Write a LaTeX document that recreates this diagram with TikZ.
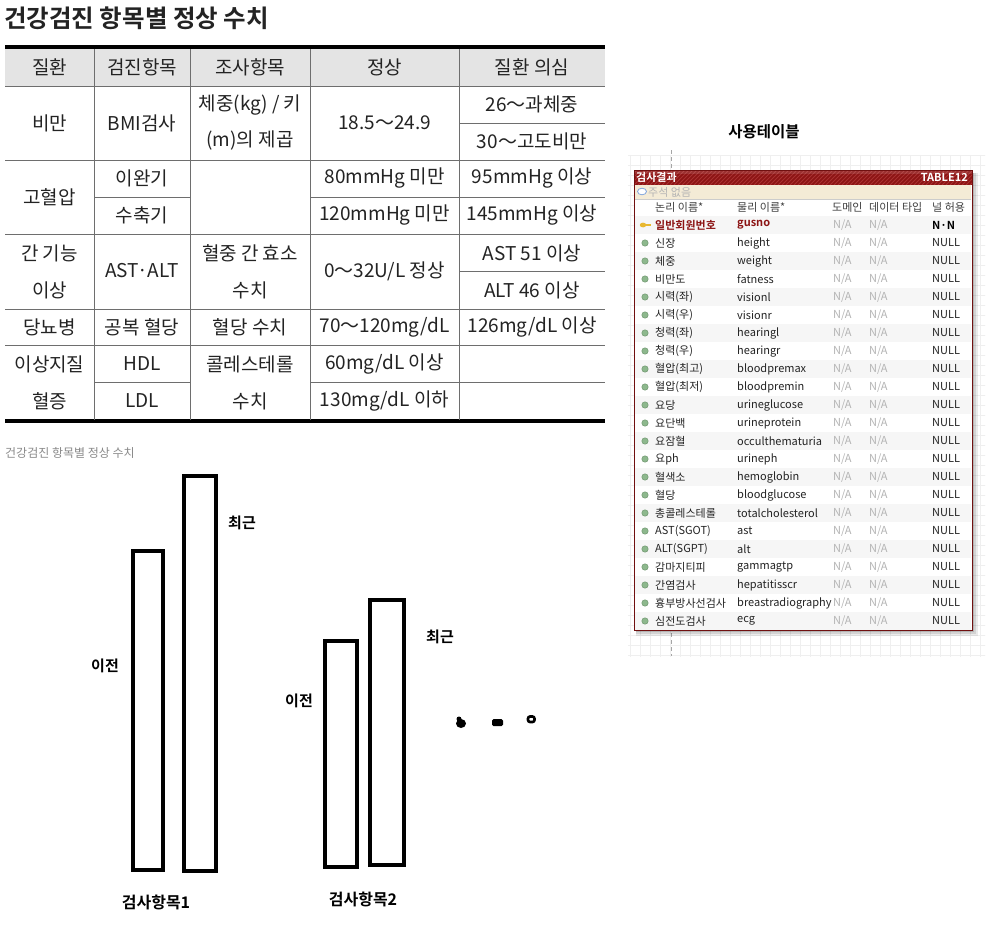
\documentclass[tikz,border=0pt]{standalone}
\usepackage{fontspec}
\setmainfont{Noto Sans CJK KR}[BoldFont={Noto Sans CJK KR Bold}]
\definecolor{hdrgray}{HTML}{E4E4E4}
\definecolor{tline}{HTML}{6E6E6E}
\definecolor{ttext}{HTML}{232323}
\definecolor{capgray}{HTML}{8A8A8A}
\definecolor{gridc}{HTML}{EFEFEF}
\definecolor{dred}{HTML}{8C1414}
\definecolor{dredlt}{HTML}{A83030}
\definecolor{beige}{HTML}{F4EBD6}
\definecolor{nagray}{HTML}{B4B4B4}
\definecolor{dotgreen}{HTML}{8DB88D}
\definecolor{dotgreend}{HTML}{6F966F}
\definecolor{rowalt}{HTML}{F6F6F6}
\definecolor{keyy}{HTML}{E8B830}
\tikzset{
  cell/.style={text=ttext, font=\fontsize{19}{21}\selectfont, inner sep=0pt, anchor=center},
  hcell/.style={cell},
  rt/.style={font=\fontsize{11}{13}\selectfont, inner sep=0pt, anchor=west, text=ttext},
  rtna/.style={rt, text=nagray},
  bar/.style={draw=black, line width=4pt, inner sep=0pt, fill=white},
  barlabel/.style={font=\bfseries\fontsize{15}{17}\selectfont, inner sep=0pt, text=black},
  thinl/.style={draw=tline, line width=0.9pt},
  thickl/.style={draw=black, line width=3.5pt},
}
\begin{document}
\begin{tikzpicture}[x=1pt,y=-1pt]
\useasboundingbox (0,0) rectangle (999,930);
\fill[white] (0,0) rectangle (999,930);

% ---------- left table ----------
\node[font=\bfseries\fontsize{24.5}{26}\selectfont, anchor=west, inner sep=0pt, text=ttext] (title) at (4,18) {건강검진 항목별 정상 수치};

\fill[hdrgray] (5,48) rectangle (605,86);
\draw[thickl] (5,47) -- (605,47);
\draw[thickl] (5,421) -- (605,421);
\foreach \yy in {86,160,234,309,345} \draw[thinl] (5,\yy) -- (605,\yy);
\draw[thinl] (459,123) -- (605,123);
\draw[thinl] (459,271) -- (605,271);
\draw[thinl] (94,197) -- (190,197);
\draw[thinl] (310,197) -- (605,197);
\draw[thinl] (94,382) -- (190,382);
\draw[thinl] (310,382) -- (605,382);
\foreach \xx in {94,190,310,459} \draw[thinl] (\xx,49) -- (\xx,419.5);

\node[hcell] (h0) at (49.5,67) {질환};
\node[hcell] (h1) at (142,67) {검진항목};
\node[hcell] (h2) at (250,67) {조사항목};
\node[hcell] (h3) at (384.5,67) {정상};
\node[hcell] (h4) at (532,67) {질환 의심};

\node[cell] (r1c0) at (49.5,123) {비만};
\node[cell] (r1c1) at (142,123) {BMI검사};
\node[cell] (r1c2a) at (250,105) {체중(kg) / 키};
\node[cell] (r1c2b) at (250,140) {(m)의 제곱};
\node[cell] (r1c3) at (384.5,123) {18.5～24.9};
\node[cell] (r1c4a) at (532,104) {26～과체중};
\node[cell] (r1c4b) at (532,141) {30～고도비만};

\node[cell] (r2c0) at (49.5,197) {고혈압};
\node[cell] (r2c1a) at (142,178) {이완기};
\node[cell] (r2c1b) at (142,215) {수축기};
\node[cell] (r2c3a) at (384.5,178) {80mmHg 미만};
\node[cell] (r2c3b) at (384.5,215) {120mmHg 미만};
\node[cell] (r2c4a) at (532,178) {95mmHg 이상};
\node[cell] (r2c4b) at (532,215) {145mmHg 이상};

\node[cell] (r3c0a) at (49.5,253) {간 기능};
\node[cell] (r3c0b) at (49.5,290) {이상};
\node[cell] (r3c1) at (142,271) {AST·ALT};
\node[cell] (r3c2a) at (250,253) {혈중 간 효소};
\node[cell] (r3c2b) at (250,290) {수치};
\node[cell] (r3c3) at (384.5,271) {0～32U/L 정상};
\node[cell] (r3c4a) at (532,253) {AST 51 이상};
\node[cell] (r3c4b) at (532,290) {ALT 46 이상};

\node[cell] (r4c0) at (49.5,327) {당뇨병};
\node[cell] (r4c1) at (142,327) {공복 혈당};
\node[cell] (r4c2) at (250,327) {혈당 수치};
\node[cell] (r4c3) at (384.5,327) {70～120mg/dL};
\node[cell] (r4c4) at (532,327) {126mg/dL 이상};

\node[cell] (r5c0a) at (49.5,364) {이상지질};
\node[cell] (r5c0b) at (49.5,401) {혈증};
\node[cell] (r5c1a) at (142,364) {HDL};
\node[cell] (r5c1b) at (142,401) {LDL};
\node[cell] (r5c2a) at (250,364) {콜레스테롤};
\node[cell] (r5c2b) at (250,401) {수치};
\node[cell] (r5c3a) at (384.5,364) {60mg/dL 이상};
\node[cell] (r5c3b) at (384.5,401) {130mg/dL 이하};

\node[font=\fontsize{12}{14}\selectfont, anchor=west, inner sep=0pt, text=capgray] (caption) at (5,453) {건강검진 항목별 정상 수치};

% ---------- bars ----------
\node[bar, minimum width=30pt, minimum height=319pt] (b1) at (148,710.5) {};
\node[bar, minimum width=32pt, minimum height=395pt] (b2) at (200,673.5) {};
\node[bar, minimum width=32pt, minimum height=226pt] (b3) at (341,754) {};
\node[bar, minimum width=34pt, minimum height=265pt] (b4) at (387,732.5) {};
\node[barlabel] (l1) at (105,666) {이전};
\node[barlabel] (l2) at (242,523) {최근};
\node[barlabel] (l3) at (299,701) {이전};
\node[barlabel] (l4) at (440,637) {최근};
\node[barlabel, font=\bfseries\fontsize{16}{18}\selectfont] (g1) at (156,902) {검사항목1};
\node[barlabel, font=\bfseries\fontsize{16}{18}\selectfont] (g2) at (363,899) {검사항목2};

% dots
\fill[black] (461,723.5) ellipse [x radius=5, y radius=4.5];
\fill[black] (459,719) circle (2.5);
\fill[black, rounded corners=1.5] (492,719) rectangle (503,726);
\draw[black, line width=2.6pt, rounded corners=2] (528,716.5) rectangle (534.5,722);

% ---------- right side ----------
\node[font=\bfseries\fontsize{15.5}{17}\selectfont, inner sep=0pt, text=black] (usetab) at (764,132) {사용테이블};

% grid
\begin{scope}
\clip (628,155) rectangle (985,656);
\foreach \gx in {630,640,...,990} \draw[gridc, line width=0.6pt] (\gx,150) -- (\gx,660);
\foreach \gy in {155,165,...,660} \draw[gridc, line width=0.6pt] (620,\gy) -- (990,\gy);
\end{scope}
\draw[gray!70, dashed, dash pattern=on 4pt off 3pt, line width=0.7pt] (671,150) -- (671,656);

% shadow
\fill[black, opacity=0.08] (636,173) rectangle (978,636);
\fill[black, opacity=0.10] (636,173) rectangle (976,634);
\fill[black, opacity=0.14] (636,173) rectangle (974,632);

% box
\fill[white] (634,170) rectangle (972,630);
\fill[dred] (634,170) rectangle (972,185);
\begin{scope}
\clip (634,170) rectangle (972,185);
\foreach \k in {-20,-16,...,350} \draw[dredlt, line width=0.8pt] (634+\k,185) -- (649+\k,170);
\fill[white, opacity=0.12] (634,170) rectangle (972,174);
\end{scope}
\node[font=\bfseries\fontsize{11}{13}\selectfont, text=white, anchor=west, inner sep=0pt] (tname) at (636,177.5) {검사결과};
\node[font=\bfseries\fontsize{11}{13}\selectfont, text=white, anchor=east, inner sep=0pt] (tcode) at (968,177.5) {TABLE12};

\fill[beige] (635,185) rectangle (971,199);
\draw[gray!40, line width=0.5pt] (635,199) -- (971,199);
\draw[cyan!50!blue!50, line width=0.8pt, fill=white] (642,191.5) ellipse [x radius=4.5, y radius=3.3];
\node[font=\fontsize{11}{13}\selectfont, text=nagray, anchor=west, inner sep=0pt] (cmt) at (648,192) {주석 없음};

\node[rt, text=black!75] (ch1) at (655,207) {논리 이름*};
\node[rt, text=black!75] (ch2) at (737,207) {물리 이름*};
\node[rt, text=black!75] (ch3) at (832,207) {도메인};
\node[rt, text=black!75] (ch4) at (869,207) {데이터 타입};
\node[rt, text=black!75] (ch5) at (932,207) {널 허용};

% first row (key)
\fill[rowalt] (635,216) rectangle (971,234);
\fill[keyy] (643,225) ellipse [x radius=3.2, y radius=2.4];
\fill[keyy] (645,224) rectangle (651,226);
\node[rt, font=\bfseries\fontsize{11}{13}\selectfont, text=dred] (ln0) at (655,225) {일반회원번호};
\node[rt, font=\bfseries\fontsize{11}{13}\selectfont, text=dred] (pn0) at (737,225) {gusno};
\node[rtna] (da0) at (833,225) {N/A};
\node[rtna] (db0) at (869,225) {N/A};
\node[rt, font=\bfseries\fontsize{11}{13}\selectfont, text=black] (nn0) at (932,225) {N·N};

\foreach \ln/\pn [count=\i] in {신장/height, 체중/weight, 비만도/fatness, 시력(좌)/visionl, 시력(우)/visionr, 청력(좌)/hearingl, 청력(우)/hearingr, 혈압(최고)/bloodpremax, 혈압(최저)/bloodpremin, 요당/urineglucose, 요단백/urineprotein, 요잠혈/occulthematuria, 요ph/urineph, 혈색소/hemoglobin, 혈당/bloodglucose, 총콜레스테롤/totalcholesterol, AST(SGOT)/ast, ALT(SGPT)/alt, 감마지티피/gammagtp, 간염검사/hepatitisscr, 흉부방사선검사/breastradiography, 심전도검사/ecg}{
  \pgfmathsetmacro{\yc}{225+18*\i}
  \pgfmathtruncatemacro{\odd}{mod(\i,2)}
  \ifnum\odd=0 \fill[rowalt] (635,\yc-9) rectangle (971,\yc+9); \fi
  \filldraw[fill=dotgreen, draw=dotgreend, line width=0.5pt] (645,\yc) circle (3.2);
  \node[rt] (ln\i) at (655,\yc) {\ln};
  \node[rt] (pn\i) at (737,\yc) {\pn};
  \node[rtna] (da\i) at (833,\yc) {N/A};
  \node[rtna] (db\i) at (869,\yc) {N/A};
  \node[rt] (nl\i) at (932,\yc) {NULL};
}
\draw[dred!80!black, line width=0.8pt] (634,170) rectangle (972,630);
\end{tikzpicture}
\end{document}
